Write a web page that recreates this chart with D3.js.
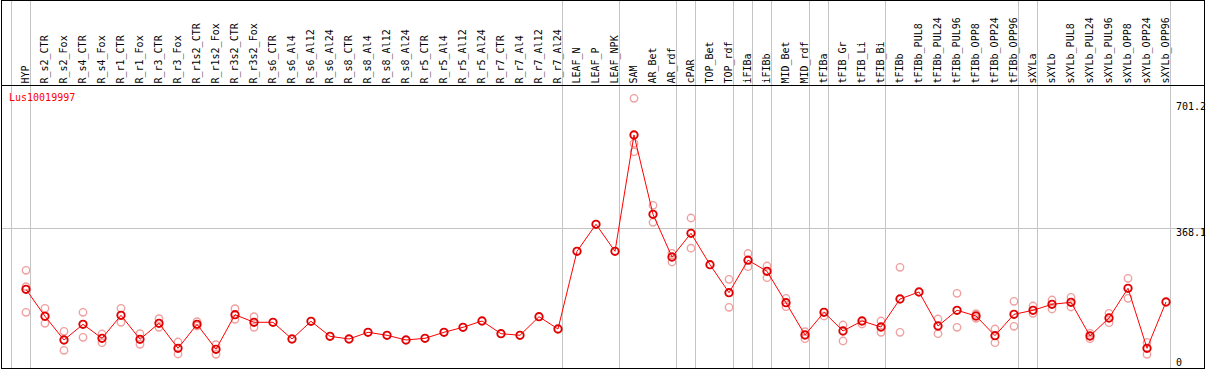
<!DOCTYPE html>
<html>
<head>
<meta charset="utf-8">
<script src="https://cdn.jsdelivr.net/npm/d3@7"></script>
<style>
  body { margin: 0; background: #fff; }
  svg { display: block; }
  text { font-family: "DejaVu Sans Mono", monospace; font-size: 10px; }
</style>
</head>
<body>
<svg id="chart" width="1209" height="370"></svg>
<script>
var categories = ["HYP", "R_s2_CTR", "R_s2_Fox", "R_s4_CTR", "R_s4_Fox", "R_r1_CTR", "R_r1_Fox",
    "R_r3_CTR", "R_r3_Fox", "R_r1s2_CTR", "R_r1s2_Fox", "R_r3s2_CTR", "R_r3s2_Fox",
    "R_s6_CTR", "R_s6_Al4", "R_s6_Al12", "R_s6_Al24", "R_s8_CTR", "R_s8_Al4", "R_s8_Al12", "R_s8_Al24",
    "R_r5_CTR", "R_r5_Al4", "R_r5_Al12", "R_r5_Al24", "R_r7_CTR", "R_r7_Al4", "R_r7_Al12", "R_r7_Al24",
    "LEAF_N", "LEAF_P", "LEAF_NPK", "SAM", "AR_Bet", "AR_rdf", "cPAR", "TOP_Bet", "TOP_rdf",
    "iFIBa", "iFIBb", "MID_Bet", "MID_rdf", "tFIBa", "tFIB_Gr", "tFIB_Li", "tFIB_Bi",
    "tFIBb", "tFIBb_PUL8", "tFIBb_PUL24", "tFIBb_PUL96", "tFIBb_OPP8", "tFIBb_OPP24", "tFIBb_OPP96",
    "sXYLa", "sXYLb", "sXYLb_PUL8", "sXYLb_PUL24", "sXYLb_PUL96", "sXYLb_OPP8", "sXYLb_OPP24", "sXYLb_OPP96"];

// mean expression per sample
var means = [212.4, 143.3, 82.7, 122.8, 87.0, 145.9, 84.5, 125.4, 61.4, 122.8, 58.9, 147.4, 128.0,
    128.0, 85.2, 130.5, 92.1, 85.2, 102.4, 94.7, 82.7,
    87.0, 102.4, 115.2, 131.3, 98.8, 94.7, 142.3, 110.8,
    309.7, 378.7, 309.7, 607.3, 404.3, 295.1, 355.7, 275.4, 203.7,
    286.9, 258.5, 178.1, 95.5, 153.5, 105.7, 131.3, 115.9,
    187.6, 205.5, 118.5, 158.7, 144.1, 93.7, 148.4,
    158.7, 174.0, 179.1, 92.9, 139.0, 215.0, 61.4, 179.9];

// individual replicates (empty where they sit under the mean)
var replicates = [[261.0, 219.1, 153.5], [163.8, 125.4], [104.9, 56.3], [153.5, 89.6], [98.0, 75.7],
    [163.8, 128.0], [98.8, 71.7], [137.2, 115.2], [77.5, 46.8], [129.5, 118.5], [70.6, 46.1],
    [162.8, 135.6], [142.3, 115.2],
    [], [], [], [], [], [], [], [],
    [], [], [], [], [], [], [], [],
    [], [], [], [701.2, 586.0, 564.5], [427.4, 383.9], [304.5, 282.3], [394.9, 317.6], [], [238.0, 166.3],
    [304.0, 270.2], [272.0, 242.1], [189.4, 167.9], [103.9, 86.0], [144.1], [121.0, 80.1], [123.6], [131.3, 102.4],
    [268.7, 102.4], [], [136.4, 98.8], [202.2, 115.2], [150.0, 138.2], [110.8, 75.7], [181.7, 117.7],
    [169.7, 151.0], [185.0, 162.0], [191.9, 167.1], [99.8, 86.0], [151.0, 126.9], [240.6, 189.4], [76.8, 46.1], []];

// index of the last sample in each group (-1 = left edge)
var groupEnds = [-1, 0, 28, 31, 34, 35, 37, 38, 39, 41, 42, 45, 52, 53, 60];

var yTicks = [701.2, 368.1, 0];
var geneName = "Lus10019997";

var svg = d3.select("#chart");
var LEFT = 1.5, RIGHT = 1204.5, TOP = 0.5, HEADER = 85.5, BOTTOM = 368.5;

var x = d3.scalePoint().domain(categories).range([26, 1166]);
var step = x.step();
var y = d3.scaleLinear().domain([0, 701.2]).range([372.3, 98.3]);

// group separators
svg.append("g").selectAll("line")
    .data(groupEnds)
    .enter().append("line")
    .attr("x1", function(i) { return 26 + i * step + 4.5; })
    .attr("x2", function(i) { return 26 + i * step + 4.5; })
    .attr("y1", TOP).attr("y2", BOTTOM)
    .attr("stroke", "#c4c4c4").attr("stroke-width", 1);

// middle reference line
svg.append("line")
    .attr("x1", LEFT).attr("x2", RIGHT)
    .attr("y1", Math.round(y(368.1)) + 0.5).attr("y2", Math.round(y(368.1)) + 0.5)
    .attr("stroke", "#c4c4c4").attr("stroke-width", 1);

// sample labels
svg.append("g").selectAll("text")
    .data(categories)
    .enter().append("text")
    .attr("transform", function(d) { return "translate(" + (x(d) + 3) + ",83.5) rotate(-90)"; })
    .attr("fill", "#000")
    .text(function(d) { return d; });

// y labels, cut by the frame
svg.append("clipPath").attr("id", "clip")
    .append("rect").attr("x", 0).attr("y", 0).attr("width", RIGHT + 1).attr("height", 370);

svg.append("g").attr("clip-path", "url(#clip)").selectAll("text")
    .data(yTicks)
    .enter().append("text")
    .attr("x", 1176)
    .attr("y", function(d) { return Math.min(Math.max(y(d) + 8, HEADER + 24), BOTTOM - 2.5); })
    .attr("fill", "#000")
    .text(function(d) { return d; });

svg.append("text")
    .attr("x", 9).attr("y", 101)
    .attr("fill", "#ff0000")
    .text(geneName);

// replicate circles
var repPoints = [];
replicates.forEach(function(r, i) {
    r.forEach(function(v) { repPoints.push({cat: categories[i], v: v}); });
});
svg.append("g").selectAll("circle")
    .data(repPoints)
    .enter().append("circle")
    .attr("cx", function(d) { return x(d.cat); })
    .attr("cy", function(d) { return y(d.v); })
    .attr("r", 3.7)
    .attr("fill", "none")
    .attr("stroke", "#f0a0a0")
    .attr("stroke-width", 1.4);

// mean line
var lineGen = d3.line()
    .x(function(d, i) { return x(categories[i]); })
    .y(function(d) { return y(d); });

svg.append("path")
    .attr("d", lineGen(means))
    .attr("fill", "none")
    .attr("stroke", "#ff0000")
    .attr("stroke-width", 1);

svg.append("g").selectAll("circle")
    .data(means)
    .enter().append("circle")
    .attr("cx", function(d, i) { return x(categories[i]); })
    .attr("cy", function(d) { return y(d); })
    .attr("r", 3.7)
    .attr("fill", "none")
    .attr("stroke", "#e00000")
    .attr("stroke-width", 1.9);

// frame
svg.append("rect")
    .attr("x", LEFT).attr("y", TOP)
    .attr("width", RIGHT - LEFT).attr("height", BOTTOM - TOP)
    .attr("fill", "none").attr("stroke", "#000").attr("stroke-width", 1);
svg.append("line")
    .attr("x1", LEFT).attr("x2", RIGHT)
    .attr("y1", HEADER).attr("y2", HEADER)
    .attr("stroke", "#000").attr("stroke-width", 1);
</script>
</body>
</html>
